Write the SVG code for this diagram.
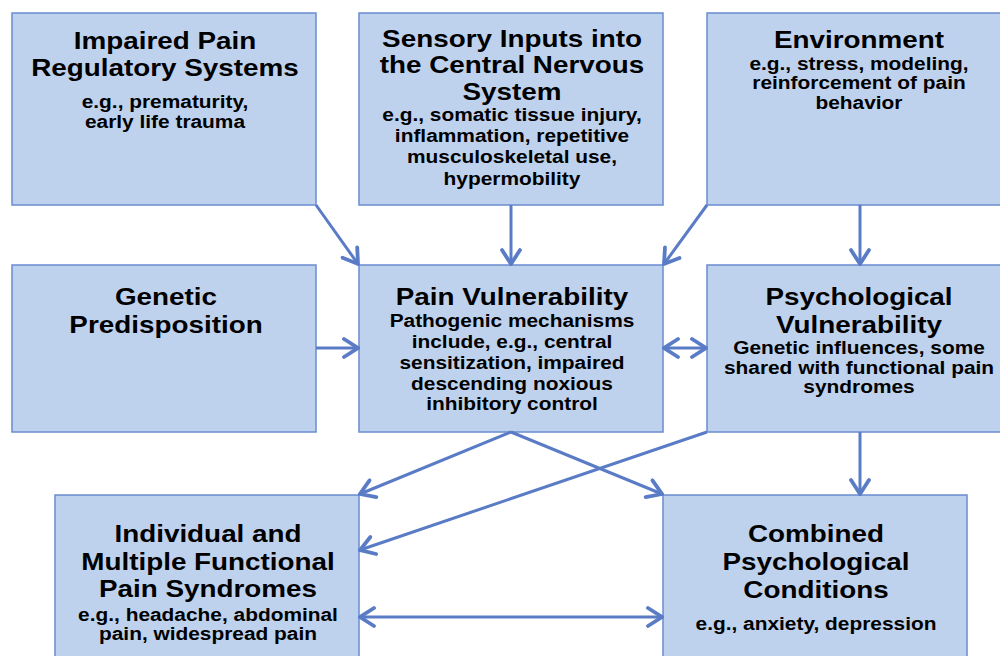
<svg xmlns="http://www.w3.org/2000/svg" width="1000" height="656" viewBox="0 0 1000 656">
<style>
.box{fill:#BFD2ED;stroke:#6A8CCF;stroke-width:1.5}
.t{font-family:"Liberation Sans",Arial,sans-serif;font-weight:bold;fill:#000;text-anchor:middle}
.h{font-size:24px}
.s{font-size:18px}
.c{fill:none;stroke:#5A7CC6;stroke-width:3}
</style>
<defs>
<marker id="ah" viewBox="0 0 22 22" markerWidth="22" markerHeight="22" refX="20" refY="11" markerUnits="userSpaceOnUse" orient="auto-start-reverse">
<path d="M6,2 L20,11 L6,20" fill="none" stroke="#5A7CC6" stroke-width="3.8" stroke-linecap="round" stroke-linejoin="miter"/>
</marker>
</defs>
<rect width="1000" height="656" fill="#fff"/>

<g id="impaired">
<rect class="box" x="12" y="13" width="304" height="192"/>
<g transform="translate(165 0) scale(1.16 1)">
<text class="t h" x="0" y="49">Impaired Pain</text>
<text class="t h" x="0" y="76.5">Regulatory Systems</text>
<text class="t s" x="0" y="108.5">e.g., prematurity,</text>
<text class="t s" x="0" y="128.5">early life trauma</text>
</g>
</g>

<g id="sensory">
<rect class="box" x="359" y="13" width="304" height="192"/>
<g transform="translate(512 0) scale(1.16 1)">
<text class="t h" x="0" y="47">Sensory Inputs into</text>
<text class="t h" x="0" y="73.5">the Central Nervous</text>
<text class="t h" x="0" y="100">System</text>
<text class="t s" x="0" y="121">e.g., somatic tissue injury,</text>
<text class="t s" x="0" y="142">inflammation, repetitive</text>
<text class="t s" x="0" y="163">musculoskeletal use,</text>
<text class="t s" x="0" y="185.5">hypermobility</text>
</g>
</g>

<g id="environment">
<rect class="box" x="707" y="13" width="304" height="192"/>
<g transform="translate(859 0) scale(1.16 1)">
<text class="t h" x="0" y="48">Environment</text>
<text class="t s" x="0" y="70">e.g., stress, modeling,</text>
<text class="t s" x="0" y="89.5">reinforcement of pain</text>
<text class="t s" x="0" y="109">behavior</text>
</g>
</g>

<g id="genetic">
<rect class="box" x="12" y="265" width="304" height="167"/>
<g transform="translate(166 0) scale(1.16 1)">
<text class="t h" x="0" y="305.5">Genetic</text>
<text class="t h" x="0" y="333">Predisposition</text>
</g>
</g>

<g id="painvuln">
<rect class="box" x="359" y="265" width="304" height="167"/>
<g transform="translate(512 0) scale(1.16 1)">
<text class="t h" x="0" y="305">Pain Vulnerability</text>
<text class="t s" x="0" y="327">Pathogenic mechanisms</text>
<text class="t s" x="0" y="348">include, e.g., central</text>
<text class="t s" x="0" y="369">sensitization, impaired</text>
<text class="t s" x="0" y="389.5">descending noxious</text>
<text class="t s" x="0" y="410.5">inhibitory control</text>
</g>
</g>

<g id="psychvuln">
<rect class="box" x="707" y="265" width="304" height="167"/>
<g transform="translate(859 0) scale(1.16 1)">
<text class="t h" x="0" y="305">Psychological</text>
<text class="t h" x="0" y="333">Vulnerability</text>
<text class="t s" x="0" y="354">Genetic influences, some</text>
<text class="t s" x="0" y="374">shared with functional pain</text>
<text class="t s" x="0" y="393">syndromes</text>
</g>
</g>

<g id="individual">
<rect class="box" x="55" y="495" width="304" height="200"/>
<g transform="translate(208 0) scale(1.16 1)">
<text class="t h" x="0" y="542">Individual and</text>
<text class="t h" x="0" y="570">Multiple Functional</text>
<text class="t h" x="0" y="597.5">Pain Syndromes</text>
<text class="t s" x="0" y="621">e.g., headache, abdominal</text>
<text class="t s" x="0" y="640">pain, widespread pain</text>
</g>
</g>

<g id="combined">
<rect class="box" x="663" y="495" width="304" height="200"/>
<g transform="translate(816 0) scale(1.16 1)">
<text class="t h" x="0" y="542.5">Combined</text>
<text class="t h" x="0" y="570.5">Psychological</text>
<text class="t h" x="0" y="598">Conditions</text>
<text class="t s" x="0" y="630">e.g., anxiety, depression</text>
</g>
</g>

<g id="connectors">
<line class="c" x1="316" y1="205" x2="358" y2="264" marker-end="url(#ah)"/>
<line class="c" x1="511" y1="205" x2="511" y2="264" marker-end="url(#ah)"/>
<line class="c" x1="707" y1="205" x2="664" y2="264" marker-end="url(#ah)"/>
<line class="c" x1="860" y1="205" x2="860" y2="264" marker-end="url(#ah)"/>
<line class="c" x1="316" y1="348" x2="358" y2="348" marker-end="url(#ah)"/>
<line class="c" x1="664" y1="348" x2="706" y2="348" marker-start="url(#ah)" marker-end="url(#ah)"/>
<line class="c" x1="511" y1="432" x2="360" y2="494" marker-end="url(#ah)"/>
<line class="c" x1="511" y1="432" x2="662" y2="494" marker-end="url(#ah)"/>
<line class="c" x1="707" y1="432" x2="360" y2="550" marker-end="url(#ah)"/>
<line class="c" x1="860" y1="432" x2="860" y2="494" marker-end="url(#ah)"/>
<line class="c" x1="360" y1="617" x2="662" y2="617" marker-start="url(#ah)" marker-end="url(#ah)"/>
</g>
</svg>
